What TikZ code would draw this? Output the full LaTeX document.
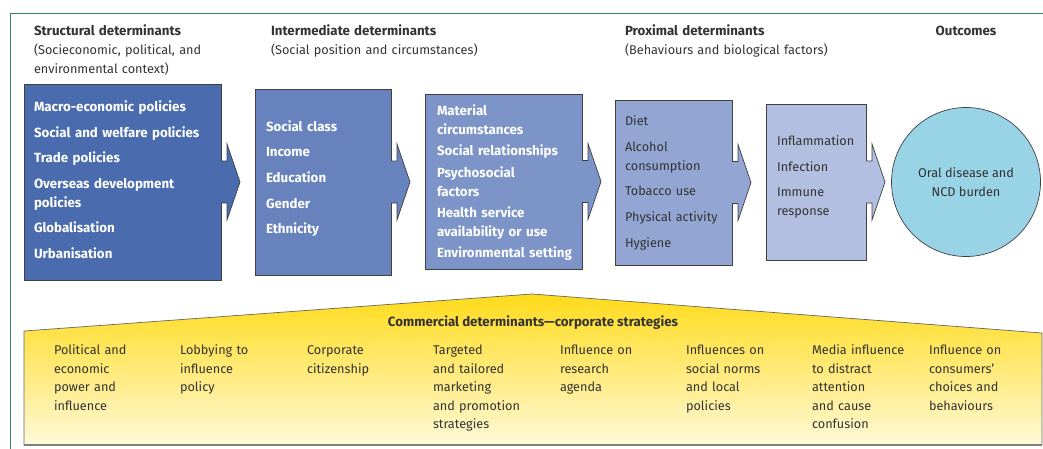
\documentclass[tikz,border=0pt]{standalone}
\usepackage{fontspec}
\setmainfont{Fira Sans}
\usetikzlibrary{calc}
\definecolor{bone}{HTML}{4A6CAE}
\definecolor{btwo}{HTML}{6782BD}
\definecolor{bthree}{HTML}{7C94C8}
\definecolor{bfour}{HTML}{93A6D3}
\definecolor{bfive}{HTML}{B3BFE0}
\definecolor{circ}{HTML}{98D3E6}
\definecolor{bord}{HTML}{404040}
\definecolor{frame}{HTML}{3A8A5C}
\definecolor{ytop}{HTML}{FFDB1A}
\definecolor{ybot}{HTML}{FFF9D8}
\definecolor{txt}{HTML}{333333}
\newcommand\bfs{\fontsize{13.3}{19}\selectfont\bfseries}
\newcommand\rgs{\fontsize{12.7}{19}\selectfont}
\begin{document}
\begin{tikzpicture}[x=1pt,y=-1pt,
  every node/.style={inner sep=0pt, outer sep=0pt},
  base/.style={font=\rgs, text=txt},
  hdr/.style={base, anchor=base west, text width=240pt, align=left},
  box/.style={draw=bord, line width=0.7pt},
  wt/.style={font=\bfs, text=white, anchor=base west, text width=180pt, align=left},
  dt/.style={font=\rgs, text=txt, anchor=base west, text width=170pt, align=left},
  yt/.style={font=\fontsize{12.7}{18.6}\selectfont, text=txt, anchor=base west, text width=115pt, align=left}]
\useasboundingbox (0,0) rectangle (1043,448);
% green frame
\coordinate (fbl) at (10,449);
\coordinate (ftl) at (10,13);
\coordinate (ftr) at (1044,13);
\draw[frame, line width=1pt] (fbl) -- (ftl) -- (ftr);
% headers
\node[hdr, name=h1] at (34,35.5) {{\bfs Structural determinants}\\(Socieconomic, political, and\\environmental context)};
\node[hdr, name=h2] at (271,35.5) {{\bfs Intermediate determinants}\\(Social position and circumstances)};
\node[hdr, name=h3] at (625,35.5) {{\bfs Proximal determinants}\\(Behaviours and biological factors)};
\node[base, font=\bfs, anchor=base, name=h4] at (966,35.5) {Outcomes};
% boxes
\node[box, fill=bone, minimum width=197pt, minimum height=196pt, name=b1] at (122.5,182) {};
\node[box, fill=btwo, minimum width=136pt, minimum height=186pt, name=b2] at (323,182) {};
\node[box, fill=bthree, minimum width=157pt, minimum height=175pt, name=b3] at (503.5,181.5) {};
\node[box, fill=bfour, minimum width=117pt, minimum height=165pt, name=b4] at (673.5,182.5) {};
\node[box, fill=bfive, minimum width=100pt, minimum height=156pt, name=b5] at (816,182) {};
\node[draw=bord, line width=0.7pt, fill=circ, circle, minimum size=149pt, name=oc] at (966,182) {};
% block arrows
\foreach \b/\c in {b1/bone, b2/btwo, b3/bthree, b4/bfour, b5/bfive}{
  \fill[\c] ($(\b.east)+(-1,-21)$) -- ($(\b.east)+(6,-21)$) -- ($(\b.east)+(6,-38)$) -- ($(\b.east)+(19,0)$) -- ($(\b.east)+(6,38)$) -- ($(\b.east)+(6,21)$) -- ($(\b.east)+(-1,21)$) -- cycle;
  \draw[bord, line width=0.7pt, line join=miter] ($(\b.east)+(0,-21)$) -- ($(\b.east)+(6,-21)$) -- ($(\b.east)+(6,-38)$) -- ($(\b.east)+(19,0)$) -- ($(\b.east)+(6,38)$) -- ($(\b.east)+(6,21)$) -- ($(\b.east)+(0,21)$);
}
% box texts
\node[wt, name=t11] at (34,111.5) {Macro-economic policies};
\node[wt, name=t12] at (34,137.5) {Social and welfare policies};
\node[wt, name=t13] at (34,162.5) {Trade policies};
\node[wt, name=t14] at (34,188.5) {Overseas development\\policies};
\node[wt, name=t15] at (34,232.5) {Globalisation};
\node[wt, name=t16] at (34,258.5) {Urbanisation};
\node[wt, name=t21] at (266,131.5) {Social class};
\node[wt, name=t22] at (266,156.5) {Income};
\node[wt, name=t23] at (266,182.5) {Education};
\node[wt, name=t24] at (266,208.5) {Gender};
\node[wt, name=t25] at (266,233.5) {Ethnicity};
\node[wt, name=t31] at (437,115.5) {Material\\circumstances};
\node[wt, name=t32] at (437,155.5) {Social relationships};
\node[wt, name=t33] at (437,177.5) {Psychosocial\\factors};
\node[wt, name=t34] at (437,217.5) {Health service\\availability or use};
\node[wt, name=t35] at (437,257.5) {Environmental setting};
\node[dt, name=t41] at (625,125.5) {Diet};
\node[dt, name=t42] at (625,151.5) {Alcohol\\consumption};
\node[dt, name=t43] at (625,195.5) {Tobacco use};
\node[dt, name=t44] at (625,221.5) {Physical activity};
\node[dt, name=t45] at (625,247.5) {Hygiene};
\node[dt, name=t51] at (777,145.5) {Inflammation};
\node[dt, name=t52] at (777,171.5) {Infection};
\node[dt, name=t53] at (777,196.5) {Immune\\response};
\node[base, align=center, name=oct] at (966,182) {Oral disease and\\NCD burden};
% commercial determinants
\coordinate (y1) at (24,331);
\coordinate (y2) at (532,294);
\coordinate (y3) at (1042,333);
\coordinate (y4) at (1042,445);
\coordinate (y5) at (24,445);
\shade[top color=ytop, bottom color=ybot] (y1) -- (y2) -- (y3) -- (y4) -- (y5) -- cycle;
\draw[bord!80, line width=0.7pt] (y5) -- (y1) -- (y2) -- (y3) -- (y4);
\draw[gray, line width=1.5pt] (y5) -- (y4);
\node[base, font=\bfs, anchor=base, name=ct] at (533,326.5) {Commercial determinants---corporate strategies};
\node[yt, name=c1] at (54,354.5) {Political and\\economic\\power and\\influence};
\node[yt, name=c2] at (180,354.5) {Lobbying to\\influence\\policy};
\node[yt, name=c3] at (307,354.5) {Corporate\\citizenship};
\node[yt, name=c4] at (433,354.5) {Targeted\\and tailored\\marketing\\and promotion\\strategies};
\node[yt, name=c5] at (560,354.5) {Influence on\\research\\agenda};
\node[yt, name=c6] at (686,354.5) {Influences on\\social norms\\and local\\policies};
\node[yt, name=c7] at (812,354.5) {Media influence\\to distract\\attention\\and cause\\confusion};
\node[yt, name=c8] at (929,354.5) {Influence on\\consumers'\\choices and\\behaviours};
\end{tikzpicture}
\end{document}
